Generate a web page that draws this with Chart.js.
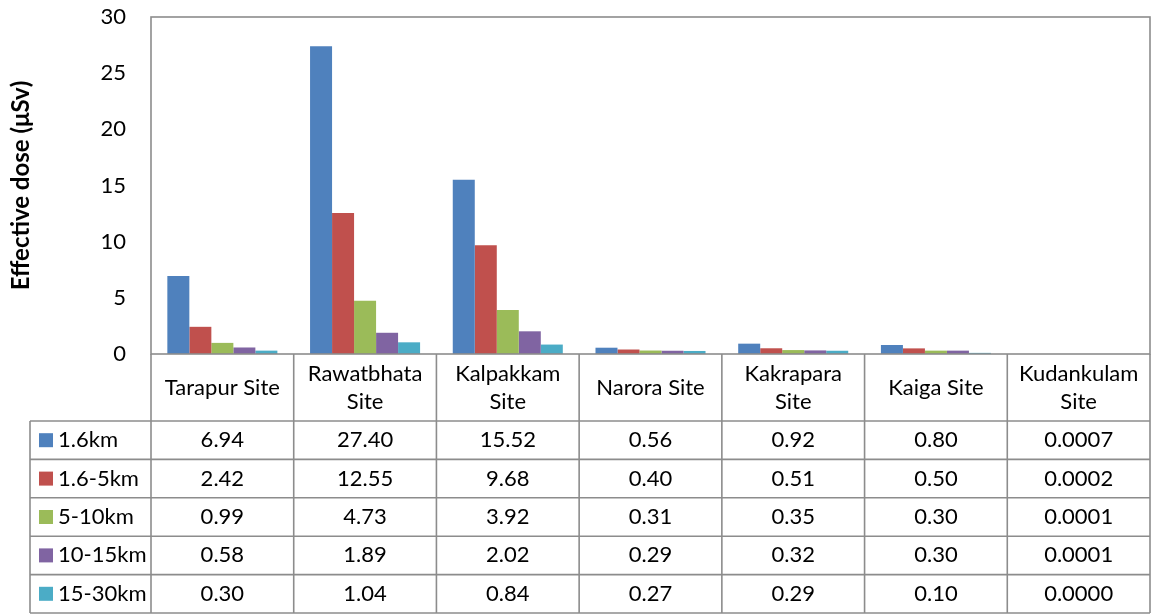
<!DOCTYPE html>
<html><head><meta charset="utf-8">
<script src="https://cdn.jsdelivr.net/npm/chart.js@4/dist/chart.umd.min.js"></script>
<style>html,body{margin:0;padding:0;background:#fff}canvas{display:block}</style>
</head><body>
<canvas id="c" width="1152" height="614"></canvas>
<script>
const categories = [['Tarapur Site'],['Rawatbhata','Site'],['Kalpakkam','Site'],['Narora Site'],['Kakrapara','Site'],['Kaiga Site'],['Kudankulam','Site']];
const seriesNames = ['1.6km','1.6-5km','5-10km','10-15km','15-30km'];
const s1 = [6.94, 27.40, 15.52, 0.56, 0.92, 0.80, 0.0007];
const s2 = [2.42, 12.55, 9.68, 0.40, 0.51, 0.50, 0.0002];
const s3 = [0.99, 4.73, 3.92, 0.31, 0.35, 0.30, 0.0001];
const s4 = [0.58, 1.89, 2.02, 0.29, 0.32, 0.30, 0.0001];
const s5 = [0.30, 1.04, 0.84, 0.27, 0.29, 0.10, 0.0000];
const tableDecimals = [2, 2, 2, 2, 2, 2, 4];
const yMin = 0, yMax = 30, yStep = 5;
const yTitle = 'Effective dose (μSv)';
const colors = ['#4F81BD', '#C0504D', '#9BBB59', '#8064A2', '#4BACC6'];

const FONT = 'Lato';
const LINE = '#8c8c8c';

const tablePlugin = {
  id: 'dataTable',
  afterDraw(chart) {
    const ctx = chart.ctx, ca = chart.chartArea, xs = chart.scales.x;
    const n = chart.data.labels.length;
    const colW = (ca.right - ca.left) / n;
    const headerBottom = 421, rowH = 38.4, tableLeft = 30;
    const ds = chart.data.datasets;
    const tableBottom = headerBottom + ds.length * rowH;
    const line = (x1, y1, x2, y2) => { ctx.beginPath(); ctx.moveTo(x1, y1); ctx.lineTo(x2, y2); ctx.stroke(); };
    ctx.save();
    ctx.strokeStyle = LINE; ctx.lineWidth = 1.6;
    ctx.strokeRect(ca.left, ca.top, ca.right - ca.left, ca.bottom - ca.top);
    for (let i = 0; i <= n; i++) {
      const x = i < n ? xs.getPixelForValue(i) - colW / 2 : xs.getPixelForValue(n - 1) + colW / 2;
      line(x, ca.bottom, x, tableBottom);
    }
    line(tableLeft, headerBottom, tableLeft, tableBottom);
    for (let r = 0; r <= ds.length; r++) {
      const y = headerBottom + r * rowH;
      line(tableLeft, y, ca.right, y);
    }
    ctx.fillStyle = '#000';
    ctx.font = '22px ' + FONT;
    ctx.textAlign = 'center'; ctx.textBaseline = 'middle';
    const headerMid = (ca.bottom + headerBottom) / 2;
    chart.data.labels.forEach((lab, i) => {
      const x = xs.getPixelForValue(i);
      const lines = Array.isArray(lab) ? lab : [lab];
      const lh = 28;
      lines.forEach((t, k) => {
        ctx.fillText(t, x, headerMid + (k - (lines.length - 1) / 2) * lh);
      });
    });
    ds.forEach((d, r) => {
      const yMid = headerBottom + r * rowH + rowH / 2;
      ctx.fillStyle = d.backgroundColor;
      ctx.fillRect(39, yMid - 7, 14, 14);
      ctx.fillStyle = '#000';
      ctx.textAlign = 'left';
      ctx.fillText(d.label, 58, yMid);
      ctx.textAlign = 'center';
      d.data.forEach((v, i) => {
        ctx.fillText(v.toFixed(tableDecimals[i]), xs.getPixelForValue(i), yMid);
      });
    });
    ctx.restore();
  }
};

const seriesData = [s1, s2, s3, s4, s5];
new Chart(document.getElementById('c'), {
  type: 'bar',
  data: {
    labels: categories,
    datasets: seriesNames.map((name, i) => ({
      label: name, data: seriesData[i], backgroundColor: colors[i], borderWidth: 0,
      categoryPercentage: 0.771, barPercentage: 1
    }))
  },
  options: {
    responsive: false, animation: false,
    layout: { padding: { left: 0, top: 17, right: 2, bottom: 260 } },
    plugins: { legend: { display: false }, tooltip: { enabled: false } },
    scales: {
      x: { display: false },
      y: {
        min: yMin, max: yMax,
        ticks: { stepSize: yStep, padding: 25, color: '#000', font: { family: FONT, size: 22 } },
        grid: { display: false, drawTicks: false },
        border: { display: false },
        title: { display: true, text: yTitle, color: '#000', font: { family: FONT, size: 24, weight: 'bold' }, padding: { top: 7, bottom: 0 } },
        afterFit(s) { s.width = 151; s.paddingTop = 0; s.paddingBottom = 0; }
      }
    }
  },
  plugins: [tablePlugin]
});
</script>
</body></html>
